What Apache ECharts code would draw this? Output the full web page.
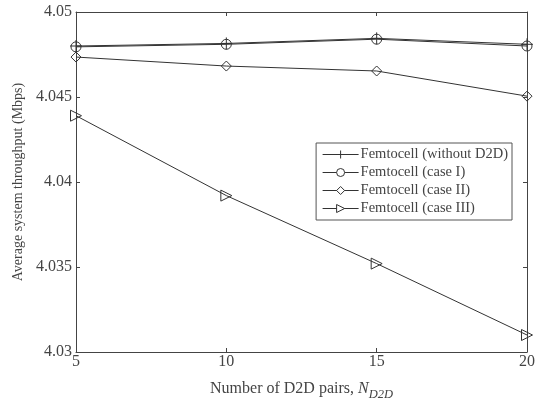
<!DOCTYPE html>
<html>
<head>
<meta charset="utf-8">
<script src="https://cdn.jsdelivr.net/npm/echarts@6/dist/echarts.min.js"></script>
<style>
  html, body { margin: 0; padding: 0; background: #fff; }
  #chart { width: 542px; height: 410px; }
</style>
</head>
<body>
<div id="chart"></div>
<script>
// data
const pairs = [5, 10, 15, 20]
const withoutD2D = [4.0480, 4.04815, 4.04845, 4.0481]
const caseI = [4.04795, 4.0481, 4.0484, 4.0480]
const caseII = [4.04735, 4.04682, 4.04653, 4.04505]
const caseIII = [4.0439, 4.0392, 4.0352, 4.0310]
const names = ['Femtocell (without D2D)', 'Femtocell (case I)', 'Femtocell (case II)', 'Femtocell (case III)']

const font = 'Liberation Serif'
const ink = '#333'
const txt = '#444'
const plus = 'path://M0,-5L0,5M-5,0L5,0'

function mkSeries (name, vals, symbol, size, rotate) {
  return {
    name: name,
    type: 'line',
    data: pairs.map((p, i) => [p, vals[i]]),
    symbol: symbol,
    symbolSize: size,
    symbolRotate: rotate || 0,
    showAllSymbol: true,
    lineStyle: { color: ink, width: 1 },
    itemStyle: { color: 'rgba(255,255,255,0)', borderColor: ink, borderWidth: 1 },
    emphasis: { disabled: true },
    z: 3
  }
}

const chart = echarts.init(document.getElementById('chart'))
const axisCommon = {
  axisLine: { show: true, lineStyle: { color: '#444', width: 1 } },
  axisTick: { show: true, inside: true, length: 4, lineStyle: { color: '#444' } },
  splitLine: { show: false }
}
chart.setOption({
  animation: false,
  textStyle: { fontFamily: font },
  grid: { left: 76, right: 15, top: 12, bottom: 58 },
  legend: {
    data: names,
    orient: 'vertical',
    right: 30,
    top: 143,
    itemWidth: 36,
    itemHeight: 10,
    itemGap: 3,
    padding: [4, 4, 4, 6],
    borderColor: '#555',
    borderWidth: 1,
    backgroundColor: '#fff',
    itemStyle: { color: '#fff', borderColor: ink, borderWidth: 1 },
    lineStyle: { color: ink, width: 1 },
    textStyle: { fontFamily: font, fontSize: 14.5, color: txt, padding: [0, 0, 0, -3] }
  },
  xAxis: [
    Object.assign({
      type: 'value', min: 5, max: 20, interval: 5,
      name: 'Number of D2D pairs, {i|N}{sub|D2D}',
      nameLocation: 'middle', nameGap: 24,
      nameTextStyle: {
        fontFamily: font, fontSize: 16, color: txt,
        rich: {
          i: { fontFamily: font, fontSize: 16, fontStyle: 'italic', color: txt },
          sub: { fontFamily: font, fontSize: 12.5, fontStyle: 'italic', color: txt, padding: [12, 0, 0, 0] }
        }
      },
      axisLabel: { fontFamily: font, fontSize: 16, color: txt, margin: 2 }
    }, axisCommon),
    Object.assign({
      type: 'value', min: 5, max: 20, interval: 5, position: 'top',
      axisLabel: { show: false }
    }, axisCommon)
  ],
  yAxis: [
    Object.assign({
      type: 'value', min: 4.03, max: 4.05, interval: 0.005,
      name: 'Average system throughput (Mbps)',
      nameLocation: 'middle', nameGap: 43,
      nameTextStyle: { fontFamily: font, fontSize: 14, color: txt },
      axisLabel: { fontFamily: font, fontSize: 16, color: txt, margin: 4 }
    }, axisCommon),
    Object.assign({
      type: 'value', min: 4.03, max: 4.05, interval: 0.005, position: 'right',
      axisLabel: { show: false }
    }, axisCommon)
  ],
  series: [
    mkSeries(names[0], withoutD2D, plus, 12),
    mkSeries(names[1], caseI, 'circle', 10),
    mkSeries(names[2], caseII, 'diamond', 10),
    mkSeries(names[3], caseIII, 'triangle', 11, -90)
  ]
})
</script>
</body>
</html>
